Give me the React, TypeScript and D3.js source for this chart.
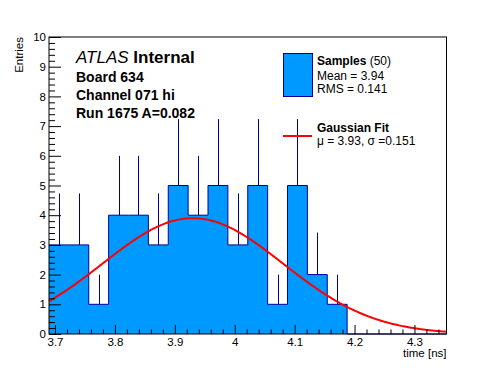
import React, { useRef, useEffect } from "react";
import * as d3 from "d3";

// histogram contents, 20 bins between xMin and xMax
const binCounts = [3, 3, 1, 4, 4, 3, 5, 4, 5, 3, 5, 1, 5, 2, 1, 0, 0, 0, 0, 0];
const xMin = 3.69;
const xMax = 4.3535;
const xTickLabels = ["3.7", "3.8", "3.9", "4", "4.1", "4.2", "4.3"];
const yTickLabels = ["0", "1", "2", "3", "4", "5", "6", "7", "8", "9", "10"];
const headerLines = ["Board 634", "Channel 071 hi", "Run 1675 A=0.082"];
const sampleStats = ["Mean = 3.94", "RMS = 0.141"];
const fitLabel = "\u03bc = 3.93, \u03c3 =0.151";
const fitMu = 3.93;
const fitSigma = 0.151;
const fitAmp = 3.9;

const FONT = "'Liberation Sans', Arial, Helvetica, sans-serif";

const App = () => {
    const chartRef = useRef<HTMLDivElement>(null);

    useEffect(() => {
        const width = 496;
        const height = 372;
        const marginTop = 37;
        const marginRight = 49.5;
        const marginBottom = 38;
        const marginLeft = 49;

        const fillColor = "#0099ff";
        const lineColor = "#000099";

        const x = d3.scaleLinear()
            .domain([xMin, xMax])
            .range([marginLeft, width - marginRight]);

        const y = d3.scaleLinear()
            .domain([0, 10])
            .range([height - marginBottom, marginTop]);

        const binWidth = (xMax - xMin) / binCounts.length;
        const steps = binCounts.map((c, i) => ({ x0: xMin + i * binWidth, c }));
        steps.push({ x0: xMax, c: binCounts[binCounts.length - 1] });

        const svg = d3.create("svg")
            .attr("width", width)
            .attr("height", height)
            .attr("viewBox", [0, 0, width, height])
            .attr("style", "position:absolute;left:0;top:0;background:#fff")
            .attr("font-family", FONT);

        svg.append("rect")
            .attr("width", width)
            .attr("height", height)
            .attr("fill", "#fff");

        // filled histogram
        svg.append("path")
            .datum(steps)
            .attr("fill", fillColor)
            .attr("d", d3.area<any>()
                .curve(d3.curveStepAfter)
                .x(d => x(d.x0))
                .y0(y(0))
                .y1(d => y(d.c)));

        svg.append("path")
            .datum(steps)
            .attr("fill", "none")
            .attr("stroke", lineColor)
            .attr("stroke-width", 1)
            .attr("d", d3.line<any>()
                .curve(d3.curveStepAfter)
                .x(d => x(d.x0))
                .y(d => y(d.c)));

        // poisson error bars (upper half, the lower half sits in the fill)
        svg.append("g")
            .attr("stroke", lineColor)
            .attr("stroke-width", 1)
            .selectAll("line")
            .data(binCounts.map((c, i) => ({ c, xc: xMin + (i + 0.5) * binWidth })).filter(d => d.c > 0))
            .join("line")
            .attr("x1", d => Math.round(x(d.xc)) + 0.5)
            .attr("x2", d => Math.round(x(d.xc)) + 0.5)
            .attr("y1", d => y(d.c))
            .attr("y2", d => y(d.c + Math.sqrt(d.c)));

        // gaussian fit
        const fitPts = d3.range(xMin, xMax, 0.002).concat([xMax]).map(v => ({
            v,
            f: fitAmp * Math.exp(-((v - fitMu) ** 2) / (2 * fitSigma * fitSigma))
        }));
        svg.append("path")
            .datum(fitPts)
            .attr("fill", "none")
            .attr("stroke", "#ff0000")
            .attr("stroke-width", 2)
            .attr("d", d3.line<any>().x(d => x(d.v)).y(d => y(d.f)));

        // axes
        const xMajor = xTickLabels.map(Number);
        const xMinor = d3.range(3.70, 4.35, 0.02).filter(v => !xMajor.some(m => Math.abs(m - v) < 1e-6));
        const yMajor = yTickLabels.map(Number);
        const yMinor = d3.range(0, 10, 0.2).filter(v => Math.abs(v - Math.round(v)) > 1e-6);

        const styleAxis = (g: any) => {
            g.select(".domain").remove();
            g.attr("font-family", FONT).attr("font-size", 11.5);
            g.selectAll(".tick text").attr("fill", "#000");
            g.selectAll(".tick line").attr("stroke", "#000");
        };

        svg.append("g")
            .attr("transform", `translate(0,${height - marginBottom})`)
            .call(d3.axisBottom(x).tickValues(xMinor).tickSize(-4.5).tickFormat(() => ""))
            .call(styleAxis);
        svg.append("g")
            .attr("transform", `translate(0,${height - marginBottom})`)
            .call(d3.axisBottom(x).tickValues(xMajor).tickSize(-9).tickPadding(4)
                .tickFormat((d, i) => xTickLabels[i]))
            .call(styleAxis);

        svg.append("g")
            .attr("transform", `translate(${marginLeft},0)`)
            .call(d3.axisLeft(y).tickValues(yMinor).tickSize(-6).tickFormat(() => ""))
            .call(styleAxis);
        svg.append("g")
            .attr("transform", `translate(${marginLeft},0)`)
            .call(d3.axisLeft(y).tickValues(yMajor).tickSize(-12).tickPadding(3)
                .tickFormat((d, i) => yTickLabels[i]))
            .call(styleAxis);

        // frame
        svg.append("rect")
            .attr("x", marginLeft)
            .attr("y", marginTop)
            .attr("width", width - marginLeft - marginRight)
            .attr("height", height - marginTop - marginBottom)
            .attr("fill", "none")
            .attr("stroke", "#000");

        // axis titles
        svg.append("text")
            .attr("x", width - marginRight)
            .attr("y", 357)
            .attr("text-anchor", "end")
            .attr("font-size", 11.5)
            .text("time [ns]");

        svg.append("text")
            .attr("transform", `translate(23,${marginTop}) rotate(-90)`)
            .attr("text-anchor", "end")
            .attr("font-size", 11.5)
            .text("Entries");

        // ATLAS label block
        const atlas = svg.append("text")
            .attr("x", 76)
            .attr("y", 63)
            .attr("font-size", 17);
        atlas.append("tspan").attr("font-style", "italic").text("ATLAS");
        atlas.append("tspan").attr("font-weight", "bold").text(" Internal");

        svg.append("g")
            .selectAll("text")
            .data(headerLines)
            .join("text")
            .attr("x", 76)
            .attr("y", (d, i) => 82 + i * 18)
            .attr("font-size", 14)
            .attr("font-weight", "bold")
            .text(d => d);

        // legend
        const legend = svg.append("g").attr("font-size", 12);
        legend.append("rect")
            .attr("x", 283.5)
            .attr("y", 53.5)
            .attr("width", 29)
            .attr("height", 43)
            .attr("fill", fillColor)
            .attr("stroke", lineColor);
        const s = legend.append("text").attr("x", 317).attr("y", 65);
        s.append("tspan").attr("font-weight", "bold").text("Samples");
        s.append("tspan").text(" (50)");
        legend.selectAll("text.stat")
            .data(sampleStats)
            .join("text")
            .attr("class", "stat")
            .attr("x", 317)
            .attr("y", (d, i) => 80 + i * 13)
            .text(d => d);

        legend.append("line")
            .attr("x1", 283)
            .attr("x2", 312)
            .attr("y1", 136)
            .attr("y2", 136)
            .attr("stroke", "#ff0000")
            .attr("stroke-width", 2);
        legend.append("text")
            .attr("x", 317)
            .attr("y", 132)
            .attr("font-weight", "bold")
            .text("Gaussian Fit");
        legend.append("text")
            .attr("x", 317)
            .attr("y", 145)
            .text(fitLabel);

        chartRef.current!.innerHTML = "";
        chartRef.current!.appendChild(svg.node()!);
    }, []);

    return <div ref={chartRef} />;
};

export default App;
